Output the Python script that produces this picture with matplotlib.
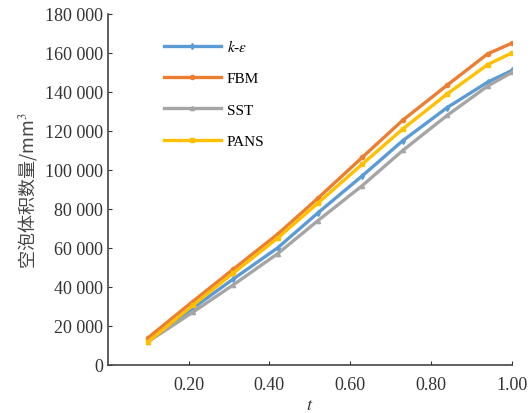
import matplotlib
matplotlib.use("Agg")
import matplotlib.pyplot as plt
from matplotlib.ticker import FuncFormatter

t = [0.10, 0.21, 0.31, 0.42, 0.52, 0.63, 0.73, 0.84, 0.94, 1.00]
k_eps = [13000, 29000, 44000, 60000, 78000, 97000, 115000, 132000, 145000, 151000]
fbm = [14000, 32500, 49000, 67000, 85500, 106500, 125500, 143500, 159500, 165000]
sst = [12000, 27000, 41000, 57000, 74000, 92000, 110000, 128000, 143000, 150000]
pans = [12000, 30500, 47000, 65000, 83000, 103000, 121000, 139000, 154000, 160000]

labels = ["$k$-$\\varepsilon$", "FBM", "SST", "PANS"]
colors = ["#5B9BD5", "#ED7D31", "#A5A5A5", "#FFC000"]
markers = ["d", "o", "^", "s"]
series = [k_eps, fbm, sst, pans]
xticks = [0.2, 0.4, 0.6, 0.8, 1.0]
yticks = list(range(0, 180001, 20000))

plt.rcParams['font.family'] = ['Liberation Serif', 'Noto Sans CJK SC']
plt.rcParams['mathtext.fontset'] = 'stix'

fig = plt.figure(figsize=(5.31, 4.14), dpi=100)
ax = fig.add_axes([0.203, 0.116, 0.761, 0.848])

for y, lab, c, m in zip(series, labels, colors, markers):
    ax.plot(t, y, color=c, lw=2.4, marker=m, ms=3, label=lab)

ax.set_xlim(0, 1.0)
ax.set_ylim(0, 180000)
ax.set_xticks(xticks)
ax.set_yticks(yticks)
ax.xaxis.set_major_formatter(FuncFormatter(lambda v, p: f"{v:.2f}"))
ax.yaxis.set_major_formatter(FuncFormatter(lambda v, p: f"{int(v):,}".replace(",", " ")))
ax.tick_params(direction="in", length=3, labelsize=13, colors="#333333", labelcolor="#333333")
ax.tick_params(axis="x", pad=8)
for s in ["top", "right"]:
    ax.spines[s].set_visible(False)
for s in ["left", "bottom"]:
    ax.spines[s].set_color("#444444")
    ax.spines[s].set_linewidth(1.2)

ax.set_xlabel("$t$", fontsize=13, color="#333333", labelpad=2)
ax.set_ylabel("空泡体积数量/mm$^3$", fontsize=13, color="#444444",
              family=['Noto Sans CJK SC', 'DejaVu Sans'], labelpad=4)

leg = ax.legend(loc="upper left", bbox_to_anchor=(0.105, 0.97), frameon=False,
                fontsize=11, handlelength=3.7, labelspacing=1.15, handletextpad=0.4)

fig.savefig("out.png", dpi=100)
